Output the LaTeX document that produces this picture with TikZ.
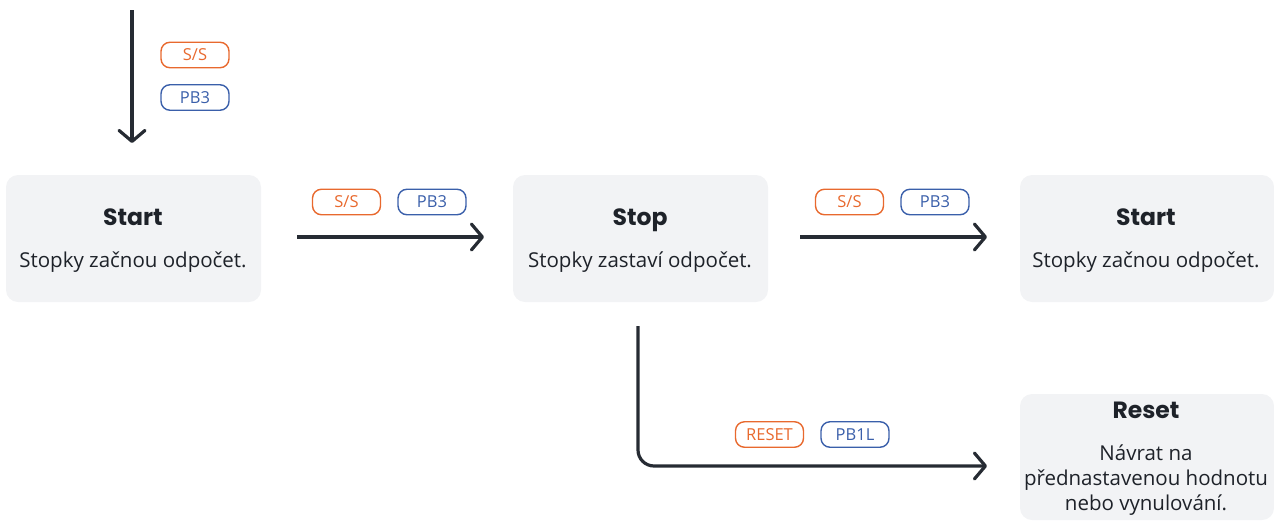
\documentclass[tikz,border=0pt]{standalone}
\usepackage{fontspec}
\setmainfont{Open Sans}
\newfontfamily\titlefont{Poppins}
\usetikzlibrary{arrows.meta}
\definecolor{boxfill}{HTML}{F2F3F5}
\definecolor{linec}{HTML}{262B33}
\definecolor{orangec}{HTML}{E8692E}
\definecolor{bluec}{HTML}{3A5FAA}
\tikzset{
  x=1pt,y=-1pt,
  statebox/.style={fill=boxfill, rounded corners=12pt, inner sep=0pt, draw=none},
  ttl/.style={font=\titlefont\bfseries\fontsize{23.5}{28}\selectfont, text=linec!80!black, anchor=base, inner sep=0pt},
  body/.style={font=\fontsize{20.5}{25}\selectfont, text=linec!80!black, anchor=base, inner sep=0pt, align=center},
  pill/.style={draw, line width=1.4pt, rounded corners=9pt, minimum width=68pt, minimum height=25.5pt, inner sep=0pt, font=\fontsize{16.5}{18}\selectfont, anchor=center},
  opill/.style={pill, draw=orangec, text=orangec},
  bpill/.style={pill, draw=bluec, text=bluec},
  conn/.style={draw=linec, line width=3.2pt, -{Straight Barb[length=11pt,width=26pt,line width=3.2pt,round]}},
}
\begin{document}
\begin{tikzpicture}
\useasboundingbox (0,0) rectangle (1274,520);
% boxes
\path[statebox] (6,175) rectangle (261,302);
\path[statebox] (513,175) rectangle (768,302);
\path[statebox] (1020,175) rectangle (1274,302);
\path[statebox] (1020,394) rectangle (1274,520);
\node[draw=none, inner sep=0pt, minimum width=255pt, minimum height=127pt] (b1) at (133.5,238.5) {};
\node[draw=none, inner sep=0pt, minimum width=255pt, minimum height=127pt] (b2) at (640.5,238.5) {};
\node[draw=none, inner sep=0pt, minimum width=254pt, minimum height=127pt] (b3) at (1147,238.5) {};
\node[draw=none, inner sep=0pt, minimum width=254pt, minimum height=126pt] (b4) at (1147,457) {};
% texts
\node[ttl] (t1) at (133,225.5) {Start};
\node[body] (d1) at (133,267) {Stopky začnou odpočet.};
\node[ttl] (t2) at (640,225.5) {Stop};
\node[body] (d2) at (640,267) {Stopky zastaví odpočet.};
\node[ttl] (t3) at (1146,225.5) {Start};
\node[body] (d3) at (1146,267) {Stopky začnou odpočet.};
\node[ttl] (t4) at (1146,418.5) {Reset};
\node[body] (d4) at (1146,510) {Návrat na\\přednastavenou hodnotu\\nebo vynulování.};
% coordinates
\coordinate (s0) at (132,10);
\coordinate (e0) at (132,143);
\coordinate (s1) at (297,237);
\coordinate (e1) at (484,237);
\coordinate (s2) at (800,237);
\coordinate (e2) at (987,237);
\coordinate (s3) at (638,326);
\coordinate (c3) at (638,466);
\coordinate (e3) at (987,466);
% connectors
\draw[conn] (s0) -- (e0);
\draw[conn] (s1) -- (e1);
\draw[conn] (s2) -- (e2);
\draw[conn, rounded corners=16pt] (s3) -- (c3) -- (e3);
% pills
\node[opill] (p1) at (195,55) {S/S};
\node[bpill] (p2) at (195,97.5) {PB3};
\node[opill] (p3) at (346.5,202) {S/S};
\node[bpill] (p4) at (432,202) {PB3};
\node[opill] (p5) at (849.5,202) {S/S};
\node[bpill] (p6) at (935,202) {PB3};
\node[opill] (p7) at (769.5,434.5) {RESET};
\node[bpill] (p8) at (855,434.5) {PB1L};
\end{tikzpicture}
\end{document}
